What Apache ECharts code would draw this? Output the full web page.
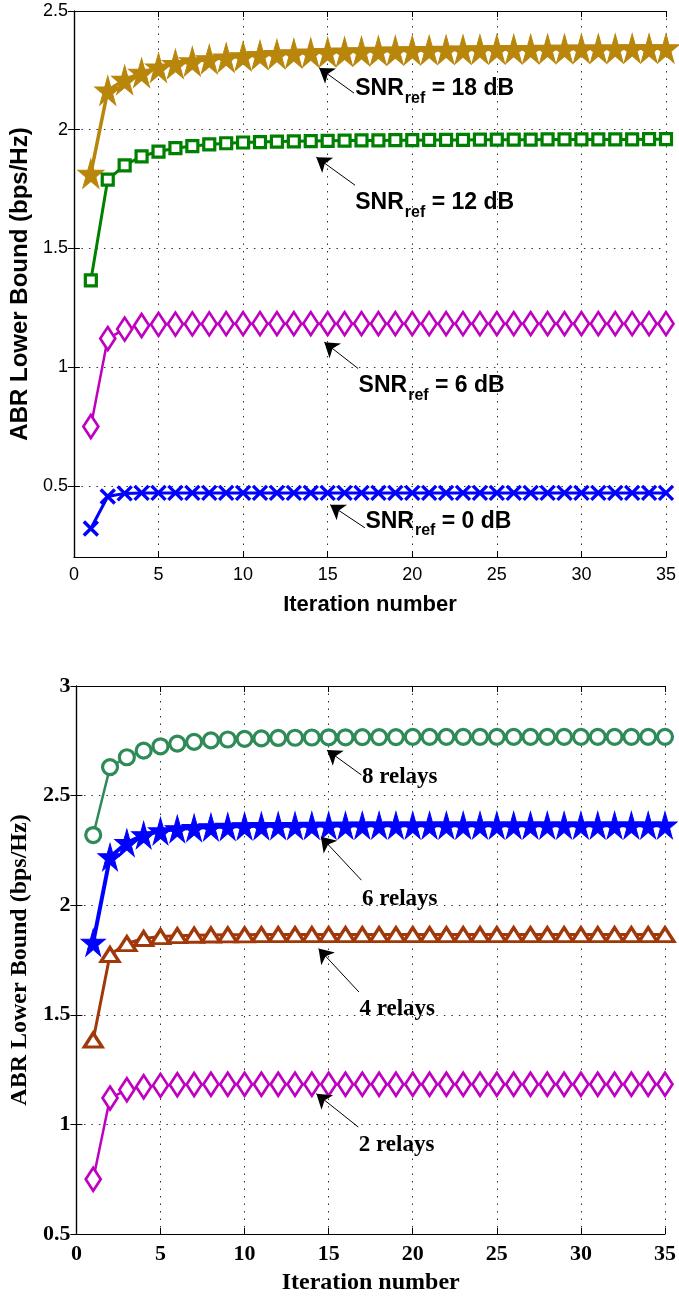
<!DOCTYPE html>
<html><head><meta charset="utf-8">
<script src="https://cdn.jsdelivr.net/npm/echarts@6/dist/echarts.min.js"></script>
<style>html,body{margin:0;padding:0;background:#fff}#c{width:679px;height:1298px}</style>
</head><body><div id="c"></div>
<script>
// ---------- data ----------
const iterations = [1,2,3,4,5,6,7,8,9,10,11,12,13,14,15,16,17,18,19,20,21,22,23,24,25,26,27,28,29,30,31,32,33,34,35];
const xTicks = [0,5,10,15,20,25,30,35];
const topYTicks = [0.5,1,1.5,2,2.5];
const bottomYTicks = [0.5,1,1.5,2,2.5,3];

// top panel: SNR_ref curves
const snr18 = [1.815,2.165,2.21,2.24,2.262,2.277,2.288,2.297,2.304,2.31,2.315,2.319,2.322,2.325,2.327,2.329,2.331,2.333,2.334,2.335,2.336,2.337,2.338,2.339,2.339,2.34,2.34,2.341,2.341,2.342,2.342,2.342,2.343,2.343,2.343];
const snr12 = [1.365,1.79,1.85,1.888,1.908,1.922,1.931,1.938,1.943,1.946,1.948,1.95,1.951,1.952,1.953,1.954,1.955,1.955,1.956,1.956,1.957,1.957,1.957,1.958,1.958,1.958,1.958,1.959,1.959,1.959,1.959,1.959,1.959,1.96,1.96];
const snr6 = [0.75,1.12,1.16,1.175,1.18,1.181,1.182,1.182,1.183,1.183,1.183,1.183,1.183,1.183,1.183,1.183,1.183,1.183,1.183,1.183,1.183,1.183,1.183,1.183,1.183,1.183,1.183,1.183,1.183,1.183,1.183,1.183,1.183,1.183,1.183];
const snr0 = [0.32,0.455,0.468,0.47,0.47,0.47,0.47,0.47,0.47,0.47,0.47,0.47,0.47,0.47,0.47,0.47,0.47,0.47,0.47,0.47,0.47,0.47,0.47,0.47,0.47,0.47,0.47,0.47,0.47,0.47,0.47,0.47,0.47,0.47,0.47];

// bottom panel: number of relays
const relays8 = [2.32,2.63,2.675,2.705,2.725,2.737,2.745,2.752,2.756,2.759,2.761,2.763,2.764,2.765,2.766,2.766,2.767,2.767,2.767,2.768,2.768,2.768,2.768,2.768,2.768,2.768,2.768,2.768,2.768,2.768,2.768,2.768,2.768,2.768,2.768];
const relays6 = [1.83,2.22,2.285,2.32,2.338,2.348,2.353,2.357,2.359,2.361,2.362,2.363,2.363,2.364,2.364,2.364,2.365,2.365,2.365,2.365,2.365,2.365,2.365,2.365,2.365,2.365,2.365,2.365,2.365,2.365,2.365,2.365,2.365,2.365,2.365];
const relays4 = [1.385,1.775,1.825,1.848,1.857,1.861,1.863,1.864,1.865,1.865,1.866,1.866,1.866,1.866,1.866,1.866,1.866,1.866,1.866,1.866,1.866,1.866,1.866,1.866,1.866,1.866,1.866,1.866,1.866,1.866,1.866,1.866,1.866,1.866,1.866];
const relays2 = [0.75,1.12,1.158,1.172,1.178,1.181,1.182,1.183,1.183,1.183,1.183,1.183,1.183,1.183,1.183,1.183,1.183,1.183,1.183,1.183,1.183,1.183,1.183,1.183,1.183,1.183,1.183,1.183,1.183,1.183,1.183,1.183,1.183,1.183,1.183];

// annotation texts and anchors (data coordinates): [text, textX, textY, tailX, tailY, tipX, tipY]
const topNotes = [
  ['18 dB', 16.6, 2.175, 16.56, 2.154, 14.5, 2.26],
  ['12 dB', 16.6, 1.694, 16.62, 1.766, 14.33, 1.884],
  ['6 dB', 16.8, 0.922, 16.8, 0.994, 14.8, 1.105],
  ['0 dB', 17.2, 0.352, 17.2, 0.323, 15.15, 0.42]
];
const bottomNotes = [
  ['8 relays', 16.95, 2.586, 16.95, 2.594, 14.9, 2.708],
  ['6 relays', 16.95, 2.03, 16.95, 2.114, 14.54, 2.312],
  ['4 relays', 16.8, 1.528, 16.8, 1.604, 14.4, 1.802],
  ['2 relays', 16.76, 0.904, 16.76, 0.988, 14.27, 1.14]
];

// ---------- styling ----------
const SANS = "'Liberation Sans', Arial, Helvetica, sans-serif";
const SERIF = "'Liberation Serif', 'Times New Roman', serif";
const gridLine = {show:true, lineStyle:{color:'#333', width:1, type:[1.5,6]}};
const STAR = 'path://M50,0 L61.2,34.5 L97.6,34.5 L68.2,55.9 L79.4,90.5 L50,69.1 L20.6,90.5 L31.8,55.9 L2.4,34.5 L38.8,34.5 Z';
const CROSS = 'path://M0,0L10,10M10,0L0,10';

function pairs(vals){ return iterations.map((x,i)=>[x, vals[i]]); }

function xAxes(grid, font, size, bold, nameSize){
  return [
    {gridIndex:grid, type:'value', min:0, max:35, interval:5, position:'bottom',
     axisLine:{show:true, lineStyle:{color:'#000', width:1.2}},
     axisTick:{show:true, inside:true, length:6, lineStyle:{color:'#000'}},
     axisLabel:{color:'#000', fontSize:size, fontFamily:font, fontWeight:bold?'bold':'normal', margin:9},
     splitLine:gridLine,
     name:'Iteration number', nameLocation:'middle', nameGap:37,
     nameTextStyle:{color:'#000', fontSize:nameSize, fontFamily:font, fontWeight:'bold'}},
    {gridIndex:grid, type:'value', min:0, max:35, interval:5, position:'top',
     axisLine:{show:true, lineStyle:{color:'#000', width:1.2}},
     axisTick:{show:true, inside:true, length:6, lineStyle:{color:'#000'}},
     axisLabel:{show:false}, splitLine:{show:false}}
  ];
}
function yAxes(grid, min, max, ticks, font, size, bold){
  return [
    {gridIndex:grid, type:'value', min:min, max:max, position:'left',
     axisLine:{show:true, lineStyle:{color:'#000', width:1.2}},
     axisTick:{show:true, inside:true, length:6, lineStyle:{color:'#000'}, customValues:ticks},
     axisLabel:{color:'#000', fontSize:size, fontFamily:font, fontWeight:bold?'bold':'normal', margin:6, customValues:ticks},
     splitLine:gridLine,
     name:'ABR Lower Bound (bps/Hz)', nameLocation:'middle', nameGap:29,
     nameTextStyle:{color:'#000', fontSize:24, fontFamily:font, fontWeight:'bold'}},
    {gridIndex:grid, type:'value', min:min, max:max, position:'right',
     axisLine:{show:true, lineStyle:{color:'#000', width:1.2}},
     axisTick:{show:true, inside:true, length:6, lineStyle:{color:'#000'}, customValues:ticks},
     axisLabel:{show:false}, splitLine:{show:false}}
  ];
}

const topRich = {
  m:{fontSize:23, fontWeight:'bold', fontFamily:SANS, color:'#000', lineHeight:26, verticalAlign:'top'},
  s:{fontSize:16, fontWeight:'bold', fontFamily:SANS, color:'#000', lineHeight:17, padding:[13,0,0,1], verticalAlign:'top'}
};
const botRich = {
  m:{fontSize:23, fontWeight:'bold', fontFamily:SERIF, color:'#000', lineHeight:26}
};

function note(n, isTop){
  const text = isTop ? '{m|SNR}{s|ref}{m| = ' + n[0] + '}' : '{m|' + n[0] + '}';
  return {
    markPoint:{
      silent:true, symbol:'circle', symbolSize:1, itemStyle:{color:'rgba(0,0,0,0)'},
      label:{show:true, position:'right', distance:0, offset:[0, isTop?2:0], formatter:text, rich:isTop?topRich:botRich},
      data:[{coord:[n[1], n[2]]}]
    },
    markLine:{
      silent:true, symbol:['none','arrow'], symbolSize:[14,14],
      lineStyle:{color:'#000', width:1, type:'solid'},
      label:{show:false}, emphasis:{disabled:true},
      data:[[{coord:[n[3], n[4]]},{coord:[n[5], n[6]]}]]
    }
  };
}

function series(vals, xi, yi, color, lw, symbol, size, filled, bw, n, isTop){
  return Object.assign({
    type:'line', xAxisIndex:xi, yAxisIndex:yi, data:pairs(vals),
    symbol:symbol, symbolSize:size, showSymbol:true, showAllSymbol:true, symbolKeepAspect:false,
    lineStyle:{color:color, width:lw},
    itemStyle:{color:filled?color:(symbol===CROSS?'none':'#fff'), borderColor:color, borderWidth:bw},
    emphasis:{disabled:true}, z:3
  }, note(n, isTop));
}

const option = {
  animation:false,
  backgroundColor:'#fff',
  grid:[{left:73, top:11, width:596, height:546},{left:73, top:686, width:596, height:548}],
  xAxis:[].concat(xAxes(0, SANS, 18, false, 22), xAxes(1, SERIF, 22, true, 24)),
  yAxis:[].concat(yAxes(0, 0.2, 2.5, topYTicks, SANS, 18, false), yAxes(1, 0.5, 3, bottomYTicks, SERIF, 22, true)),
  series:[
    series(snr18, 0, 0, '#B8860B', 3.5, STAR, [26,29], true, 1, topNotes[0], true),
    series(snr12, 0, 0, '#008000', 3, 'rect', 11, false, 3.2, topNotes[1], true),
    series(snr6, 0, 0, '#C000C0', 2.5, 'diamond', [15,23], false, 2.8, topNotes[2], true),
    series(snr0, 0, 0, '#0000FF', 3, CROSS, 14, false, 3.4, topNotes[3], true),
    series(relays8, 2, 2, '#2E8B57', 2.5, 'circle', 15, false, 3.2, bottomNotes[0], false),
    series(relays6, 2, 2, '#0000FF', 4, STAR, [24,27], true, 1, bottomNotes[1], false),
    series(relays4, 2, 2, '#A0380A', 3, 'triangle', [18,14], false, 3.2, bottomNotes[2], false),
    series(relays2, 2, 2, '#C000C0', 2.5, 'diamond', [15,23], false, 2.8, bottomNotes[3], false)
  ]
};
const chart = echarts.init(document.getElementById('c'), null, {renderer:'canvas'});
chart.setOption(option);
</script>
</body></html>
